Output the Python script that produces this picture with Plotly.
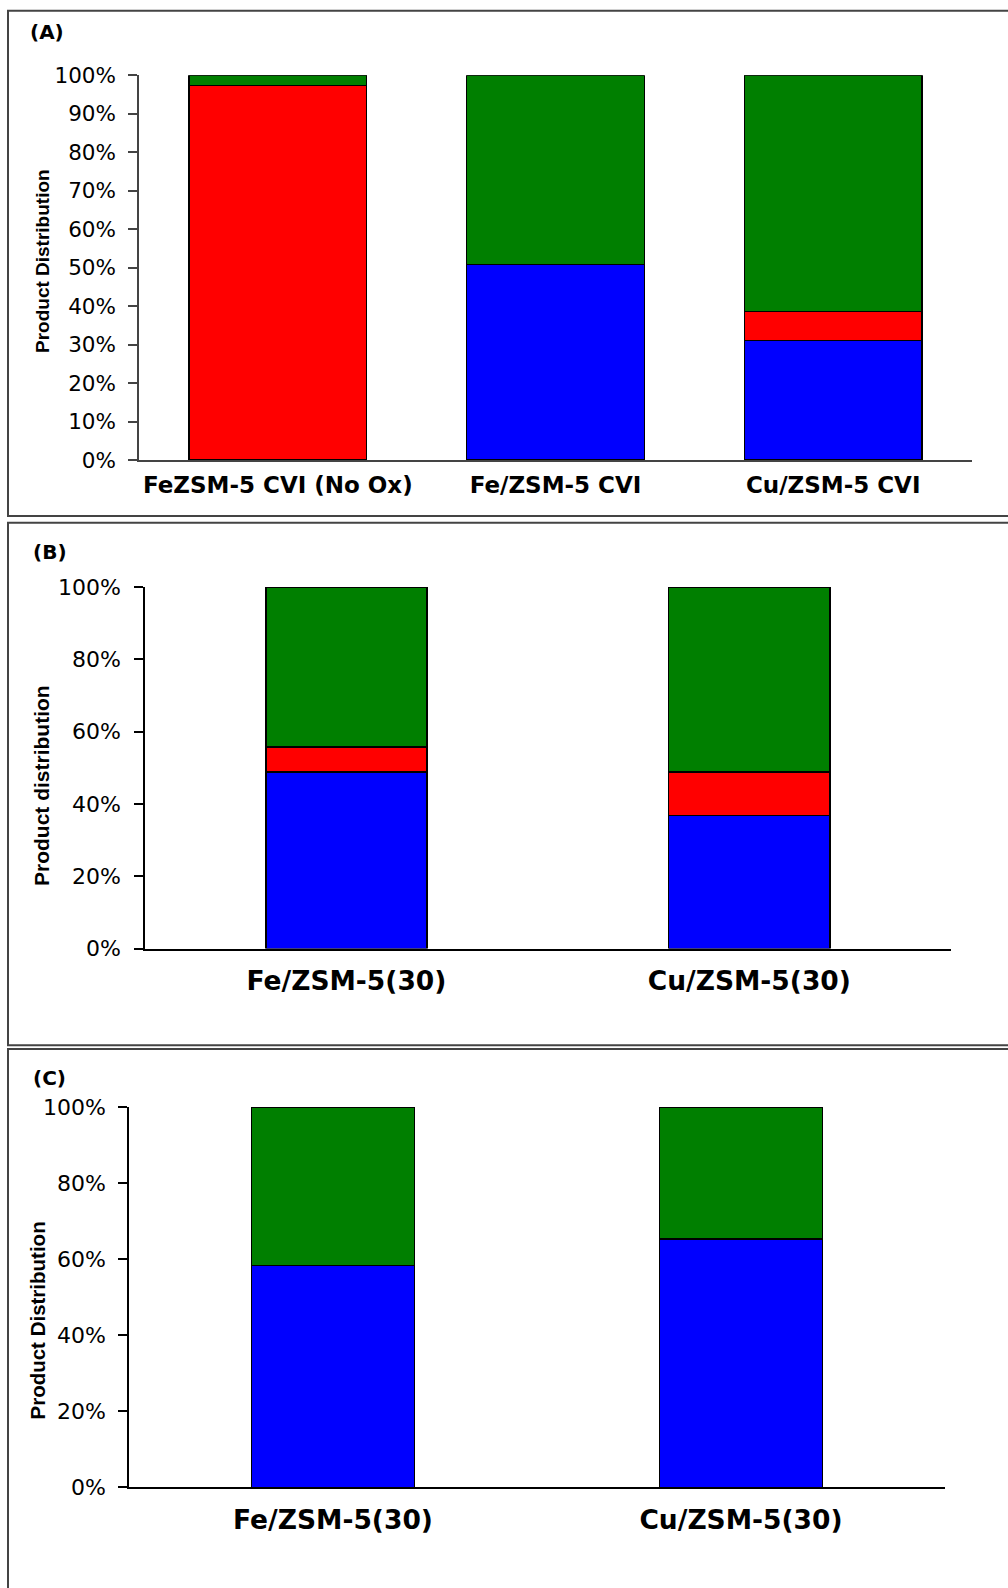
import plotly.graph_objects as go

# ---- data (percent of products) ----
a_categories = ["FeZSM-5 CVI (No Ox)", "Fe/ZSM-5 CVI", "Cu/ZSM-5 CVI"]
a_blue = [None, 50.8, 31.1]
a_red = [97.4, None, 7.5]
a_green = [2.6, 49.2, 61.4]

b_categories = ["Fe/ZSM-5(30)", "Cu/ZSM-5(30)"]
b_blue = [48.8, 36.8]
b_red = [7.0, 12.0]
b_green = [44.2, 51.2]

c_categories = ["Fe/ZSM-5(30)", "Cu/ZSM-5(30)"]
c_blue = [58.3, 65.3]
c_green = [41.7, 34.7]

a_ticks = list(range(0, 101, 10))
bc_ticks = list(range(0, 101, 20))

panel_letters = ["(A)", "(B)", "(C)"]
y_titles = ["Product Distribution", "Product distribution", "Product Distribution"]

# ---- page geometry (pixels) ----
W, H = 1008, 1588
BLUE, RED, GREEN = "#0000FF", "#FF0000", "#007F00"


def px(x):
    return x / W


def py(y):
    return 1 - y / H


fig = go.Figure()


def add_stack(xa, ya, cats, series, width):
    for vals, col in series:
        fig.add_trace(go.Bar(
            x=cats, y=vals, xaxis=xa, yaxis=ya, width=width,
            marker=dict(color=col, line=dict(color="black", width=1.5)),
            showlegend=False, hoverinfo="x+y",
        ))


add_stack("x", "y", a_categories, [(a_blue, BLUE), (a_red, RED), (a_green, GREEN)], 0.64)
add_stack("x2", "y2", b_categories, [(b_blue, BLUE), (b_red, RED), (b_green, GREEN)], 0.40)
add_stack("x3", "y3", c_categories, [(c_blue, BLUE), (c_green, GREEN)], 0.40)

tick_font = "DejaVu Sans, Verdana, sans-serif"
cat_font = "DejaVu Sans, Verdana, sans-serif"
title_font = "Liberation Sans Narrow, Arial Narrow, Liberation Sans, Arial, sans-serif"


def xaxis_cfg(domain, anchor, size, standoff, color):
    return dict(domain=domain, anchor=anchor, type="category", showline=True,
                linecolor=color, linewidth=1.5, ticks="", showgrid=False,
                zeroline=False, automargin=False,
                tickfont=dict(family=cat_font, size=size, color="black", weight="bold"),
                ticklabelstandoff=standoff, fixedrange=True)


def yaxis_cfg(domain, anchor, ticks, size, standoff, color):
    return dict(domain=domain, anchor=anchor, range=[0, 100], tickmode="array",
                tickvals=ticks, ticktext=[f"{t}%" for t in ticks],
                showline=True, linecolor=color, linewidth=1.5,
                ticks="outside", ticklen=9, tickwidth=1.5, tickcolor=color,
                showgrid=False, zeroline=False, automargin=False,
                ticklabelstandoff=standoff,
                tickfont=dict(family=tick_font, size=size, color="black"),
                fixedrange=True)


layout = dict(
    width=W, height=H,
    margin=dict(l=0, r=0, t=0, b=0, pad=0, autoexpand=False),
    paper_bgcolor="white", plot_bgcolor="white", barmode="stack",
    xaxis=xaxis_cfg([px(139), px(972)], "y", 23, 4, "#444"),
    yaxis=yaxis_cfg([py(460), py(75.3)], "x", a_ticks, 21.5, 8, "#444"),
    xaxis2=xaxis_cfg([px(145), px(950.7)], "y2", 26.5, 8, "black"),
    yaxis2=yaxis_cfg([py(948.6), py(586.9)], "x2", bc_ticks, 22, 9, "black"),
    xaxis3=xaxis_cfg([px(129), px(945)], "y3", 26.5, 8, "black"),
    yaxis3=yaxis_cfg([py(1487.4), py(1107.1)], "x3", bc_ticks, 22, 8, "black"),
)

# panel frames (open on the right edge of the page)
frames = [(8, 10.7, 516), (8, 522.7, 1045.3), (8, 1049, 1620)]
shapes = []
for x0, y0, y1 in frames:
    shapes.append(dict(type="rect", xref="paper", yref="paper",
                       x0=px(x0), x1=px(W + 10), y0=py(y1), y1=py(y0),
                       line=dict(color="#444", width=2), fillcolor="rgba(0,0,0,0)"))

annotations = []
letter_pos = [(47, 32), (50, 552.4), (49, 1077.6)]
for text, (x, y) in zip(panel_letters, letter_pos):
    annotations.append(dict(text=text, x=px(x), y=py(y), xref="paper", yref="paper",
                            showarrow=False, xanchor="center", yanchor="middle",
                            font=dict(family=cat_font, size=20, color="black", weight="bold")))

title_pos = [(42, 261, 19), (41, 786, 21), (36.5, 1321, 20.5)]
for text, (x, y, s) in zip(y_titles, title_pos):
    annotations.append(dict(text=text, x=px(x), y=py(y), xref="paper", yref="paper",
                            showarrow=False, textangle=-90, xanchor="center", yanchor="middle",
                            font=dict(family=title_font, size=s, color="black", weight="bold")))

layout["shapes"] = shapes
layout["annotations"] = annotations
fig.update_layout(**layout)

fig.write_html("out.html", config={"displayModeBar": False})
